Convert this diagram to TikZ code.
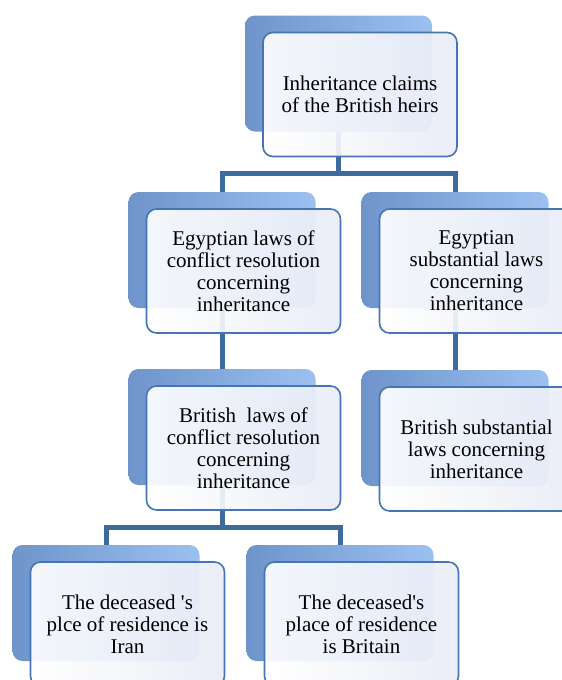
\documentclass[tikz,border=0pt]{standalone}
\usepackage{fontspec}
\setmainfont{Liberation Serif}
\usepackage{xcolor}
\definecolor{LinkBlue}{HTML}{3F6A9D}
\definecolor{FrontEdge}{HTML}{4774B4}
\definecolor{FrontTint}{HTML}{E9ECF6}
\definecolor{BackDark}{HTML}{6E94CB}
\definecolor{BackLight}{HTML}{9CC0F0}
\usepackage{tikz}
\usetikzlibrary{positioning}

\begin{document}
\begin{tikzpicture}[
  x=1pt, y=-1pt,
  backbox/.style={rectangle, rounded corners=10pt, left color=BackDark, right color=BackLight, minimum width=187pt, minimum height=116pt, inner sep=0pt},
  frontbox/.style={rectangle, rounded corners=10pt, draw=FrontEdge, line width=1.6pt, left color=white, right color=FrontTint, fill opacity=0.92, text opacity=1, minimum width=194pt, minimum height=124pt, inner sep=0pt, align=center, font=\fontsize{21}{22}\selectfont, xshift=21.5pt, yshift=-21pt},
  link/.style={LinkBlue, line width=5pt}
]
  \useasboundingbox (0,0) rectangle (562,680);
  \clip (0,0) rectangle (562,680);

  % Back plates
  \coordinate (claimspos) at (338.5,73.5);
  \coordinate (egyconfpos) at (222,250);
  \coordinate (egysubpos) at (455,250);
  \coordinate (briconfpos) at (222,427);
  \coordinate (brisubpos) at (455,428);
  \coordinate (iranpos) at (106,603);
  \coordinate (britainpos) at (340,603);

  % Connectors
  \draw[link] (claimspos) -- ++(0,100) -| (egyconfpos);
  \draw[link] (claimspos) -- ++(0,100) -| (egysubpos);
  \draw[link] (egyconfpos) -- (briconfpos);
  \draw[link] (egysubpos) -- (brisubpos);
  \draw[link] (briconfpos) -- ++(0,100) -| (iranpos);
  \draw[link] (briconfpos) -- ++(0,100) -| (britainpos);

  % Shadow plates
  \node[backbox] (claimsbg) at (claimspos) {};
  \node[backbox] (egyconfbg) at (egyconfpos) {};
  \node[backbox] (egysubbg) at (egysubpos) {};
  \node[backbox] (briconfbg) at (briconfpos) {};
  \node[backbox] (brisubbg) at (brisubpos) {};
  \node[backbox] (iranbg) at (iranpos) {};
  \node[backbox] (britainbg) at (britainpos) {};

  % Front boxes
  \node[frontbox] (claims) at (claimsbg) {Inheritance claims\\of the British heirs};
  \node[frontbox] (egyconf) at (egyconfbg) {Egyptian laws of\\conflict resolution\\concerning\\inheritance};
  \node[frontbox] (egysub) at (egysubbg) {Egyptian\\substantial laws\\concerning\\inheritance};
  \node[frontbox] (briconf) at (briconfbg) {British~ laws of\\conflict resolution\\concerning\\inheritance};
  \node[frontbox] (brisub) at (brisubbg) {British substantial\\laws concerning\\inheritance};
  \node[frontbox] (iran) at (iranbg) {The deceased \textquotesingle s\\plce of residence is\\Iran};
  \node[frontbox] (britain) at (britainbg) {The deceased\textquotesingle s\\place of residence\\is Britain};
\end{tikzpicture}
\end{document}
